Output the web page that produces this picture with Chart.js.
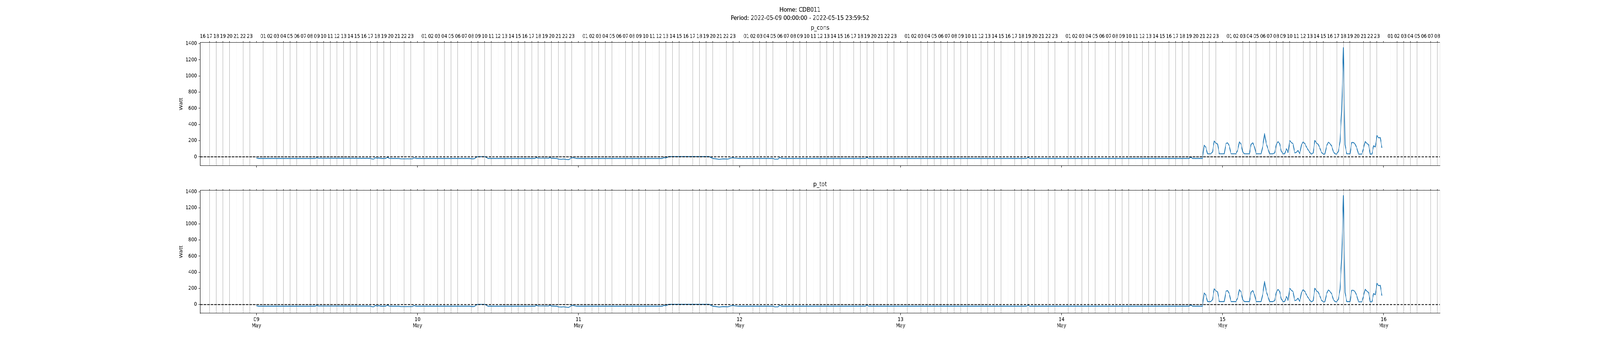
<!DOCTYPE html>
<html>
<head>
<meta charset="utf-8">
<script src="https://cdn.jsdelivr.net/npm/chart.js@4.4.0/dist/chart.umd.min.js"></script>
<style>
  html, body { margin: 0; padding: 0; background: #ffffff; overflow: hidden; }
  #wrap { position: absolute; left: 0; top: 0; width: 5000px; height: 900px; background: #ffffff; transform-origin: 0 0; }
  canvas { position: absolute; left: 0; }
</style>
</head>
<body>
<div id="wrap">
  <canvas id="c1" width="5000" height="440" style="top:0px"></canvas>
  <canvas id="c2" width="5000" height="460" style="top:440px"></canvas>
</div>
<script>
// ---------------- data ----------------
const suptitle = ['Home: CDB011', 'Period: 2022-05-09 00:00:00 - 2022-05-15 23:59:52'];
const panelTitles = ['p_cons', 'p_tot'];
const yLabel = 'Watt';

// day (major) ticks, hours since 2022-05-09 00:00
const dayTicks = [0, 24, 48, 72, 96, 120, 144, 168];
const dayLabels = ['09', '10', '11', '12', '13', '14', '15', '16'];
const monthLabel = 'May';
const hourLabels = ['00','01','02','03','04','05','06','07','08','09','10','11',
                    '12','13','14','15','16','17','18','19','20','21','22','23'];
const yTicks = [0, 200, 400, 600, 800, 1000, 1200, 1400];

// sample times (hours since 2022-05-09 00:00) at the vertices of the line
const hoursSinceStart = [
  0, 0.25, 8.75, 9, 9.25, 17, 17.25, 17.5, 17.75, 18, 18.25, 18.5, 19.25, 19.5, 19.75, 20,
  21.25, 21.5, 23.25, 23.5, 23.75, 31.75, 32.25, 32.5, 32.75, 33, 34, 34.25, 34.5,
  41.5, 41.75, 42, 43.5, 43.75, 44, 44.75, 45, 45.5, 45.75, 46, 46.5, 46.75, 47, 47.25, 47.5, 47.75,
  60.5, 60.75, 61, 61.25, 61.5, 67.5, 67.75, 68, 68.5, 69, 69.5, 70, 70.25, 70.75, 71, 71.5, 72,
  77, 77.25, 77.75, 78, 78.25, 90.75, 91, 91.25, 114.75, 115, 115.25, 139, 139.25, 139.5, 141,
  141.25, 141.5, 141.75, 142, 142.25, 142.5, 142.75, 143, 143.25, 143.5, 143.75, 144,
  144.25, 144.5, 144.75, 145, 145.25, 145.5, 145.75, 146, 146.25, 146.5, 146.75, 147,
  147.25, 147.5, 147.75, 148, 148.25, 148.5, 148.75, 149, 149.25, 149.5, 149.75, 150,
  150.25, 150.5, 150.75, 151, 151.25, 151.5, 151.75, 152, 152.25, 152.5, 152.75, 153,
  153.25, 153.5, 153.75, 154, 154.25, 154.5, 154.75, 155, 155.25, 155.5, 155.75, 156,
  156.25, 156.5, 156.75, 157, 157.25, 157.5, 157.75, 158, 158.25, 158.5, 158.75, 159,
  159.25, 159.5, 159.75, 160, 160.25, 160.5, 160.75, 161, 161.25, 161.5, 161.75, 162,
  162.25, 162.5, 162.75, 163, 163.25, 163.5, 163.75, 164, 164.25, 164.5, 164.75, 165,
  165.25, 165.5, 165.75, 166, 166.25, 166.5, 166.75, 167, 167.25, 167.5, 167.75
];

const pCons = [
  -14, -20, -20, -12, -18, -19, -27, -27, -11, -20, -14, -20, -20, -6, -18, -20,
  -20, -24, -24, -12, -20, -20, -25, -22, -5, 2, 2, -5, -20,
  -20, -10, -17, -18, -11, -19, -20, -28, -30, -27, -30, -35, -25, -12, -12, -17, -20,
  -20, -10, -15, -5, 3, 3, -10, -20, -25, -30, -25, -26, -28, -15, -12, -18, -20,
  -20, -28, -28, -8, -20, -20, -8, -20, -20, -8, -20, -20, -5, -20, -20,
  145, 118, 37, 37, 37, 61, 195, 169, 158, 37, 37, 37,
  37, 166, 174, 134, 37, 37, 37, 37, 82, 185, 158, 61,
  37, 37, 37, 37, 155, 174, 122, 37, 37, 37, 37, 137,
  290, 166, 102, 37, 37, 37, 48, 150, 187, 163, 69, 37,
  37, 100, 53, 202, 177, 161, 48, 56, 81, 37, 150, 185,
  163, 121, 85, 53, 34, 48, 202, 169, 155, 106, 53, 34,
  34, 134, 182, 163, 134, 64, 37, 34, 66, 190, 585, 1351,
  150, 37, 37, 37, 177, 177, 158, 109, 34, 34, 34, 105,
  190, 166, 150, 34, 34, 137, 122, 263, 235, 238, 111
];

const pTot = [
  -14, -20, -20, -12, -18, -19, -27, -27, -11, -20, -14, -20, -20, -6, -18, -20,
  -20, -24, -24, -12, -20, -20, -25, -22, -5, 2, 2, -5, -20,
  -20, -10, -17, -18, -11, -19, -20, -28, -30, -27, -30, -35, -25, -12, -12, -17, -20,
  -20, -10, -15, -5, 3, 3, -10, -20, -25, -30, -25, -26, -28, -15, -12, -18, -20,
  -20, -28, -28, -8, -20, -20, -8, -20, -20, -8, -20, -20, -5, -20, -20,
  145, 118, 37, 37, 37, 61, 195, 169, 158, 37, 37, 37,
  37, 166, 174, 134, 37, 37, 37, 37, 82, 185, 158, 61,
  37, 37, 37, 37, 155, 174, 122, 37, 37, 37, 37, 137,
  290, 166, 102, 37, 37, 37, 48, 150, 187, 163, 69, 37,
  37, 100, 53, 202, 177, 161, 48, 56, 81, 37, 150, 185,
  163, 121, 85, 53, 34, 48, 202, 169, 155, 106, 53, 34,
  34, 134, 182, 163, 134, 64, 37, 34, 66, 190, 585, 1351,
  150, 37, 37, 37, 177, 177, 158, 109, 34, 34, 34, 105,
  190, 166, 150, 34, 34, 137, 122, 263, 235, 238, 111
];

// ---------------- page fit ----------------
// The design is laid out for a 5000x900 page; fit it to the actual viewport.
(function fitPage() {
  const sx = (window.innerWidth || 5000) / 5000;
  const sy = (window.innerHeight || 900) / 900;
  document.getElementById('wrap').style.transform = 'scale(' + sx + ',' + sy + ')';
})();

// ---------------- styling / axes ----------------
const X_MIN = -8.4, X_MAX = 176.4;
const Y_MIN = -108, Y_MAX = 1416;
const LINE_BLUE = '#1f77b4';
const GRID_GREY = '#b0b0b0';
const FONT = 'DejaVu Sans';
const TICK_FS = 13.9;
const TITLE_FS = 16.67;

Chart.defaults.font.family = FONT;
Chart.defaults.color = '#000000';

const hourTicks = [];
for (let h = Math.ceil(X_MIN); h <= Math.floor(X_MAX); h++) hourTicks.push(h);

function toPoints(ts, vs) { return ts.map((t, i) => ({ x: t, y: vs[i] })); }

function makeChart(canvasId, values, cfg) {
  const plugins = {
    legend: { display: false },
    tooltip: { enabled: false }
  };
  if (cfg.suptitle) {
    plugins.title = {
      display: true, text: cfg.suptitle, fullSize: true, color: '#000',
      font: { family: FONT, size: TITLE_FS, weight: 'normal', lineHeight: 1.26 },
      padding: { top: 15.5, bottom: 0 }
    };
    plugins.subtitle = {
      display: true, text: cfg.panelTitle, fullSize: false, color: '#000',
      font: { family: FONT, size: TITLE_FS, weight: 'normal', lineHeight: 1.2 },
      padding: { top: 4.5, bottom: 0 }
    };
  } else {
    plugins.title = {
      display: true, text: cfg.panelTitle, fullSize: false, color: '#000',
      font: { family: FONT, size: TITLE_FS, weight: 'normal', lineHeight: 1.2 },
      padding: { top: cfg.titlePadTop, bottom: 0 }
    };
  }

  return new Chart(document.getElementById(canvasId), {
    type: 'line',
    data: {
      datasets: [
        {
          data: [{ x: X_MIN, y: 0 }, { x: X_MAX, y: 0 }],
          borderColor: '#000000', borderWidth: 2.08, borderDash: [7.7, 3.3],
          borderCapStyle: 'butt', pointRadius: 0, fill: false, tension: 0
        },
        {
          data: toPoints(hoursSinceStart, values),
          borderColor: LINE_BLUE, borderWidth: 2.08, pointRadius: 0, fill: false,
          tension: 0, borderJoinStyle: 'round', borderCapStyle: 'butt'
        }
      ]
    },
    options: {
      responsive: false,
      animation: false,
      devicePixelRatio: 1,
      layout: { padding: 0 },
      plugins: plugins,
      scales: {
        x: {
          type: 'linear', position: 'bottom', min: X_MIN, max: X_MAX,
          afterBuildTicks: s => { s.ticks = dayTicks.map(v => ({ value: v })); },
          ticks: {
            display: cfg.dayLabels, autoSkip: false, maxRotation: 0, minRotation: 0,
            padding: 3, color: '#000',
            font: { family: FONT, size: TICK_FS, lineHeight: 1.15 },
            callback: (v, i) => [dayLabels[i], monthLabel]
          },
          grid: { drawOnChartArea: false, drawTicks: true, tickLength: 5, tickColor: '#000', tickWidth: 1.1 },
          border: { display: true, color: '#000', width: 1.1 },
          afterFit: s => { s.height = cfg.bottomAxisH; }
        },
        x2: {
          type: 'linear', position: 'top', min: X_MIN, max: X_MAX,
          afterBuildTicks: s => { s.ticks = hourTicks.map(v => ({ value: v })); },
          ticks: {
            display: cfg.hourLabels, autoSkip: false, maxRotation: 0, minRotation: 0,
            padding: 4, color: '#000',
            font: { family: FONT, size: TICK_FS, lineHeight: 1.2 },
            callback: v => (v % 24 === 0) ? '' : hourLabels[((v % 24) + 24) % 24]
          },
          grid: {
            drawOnChartArea: true, drawTicks: true, tickLength: 3,
            color: ctx => (ctx.tick && ctx.tick.value % 24 === 0) ? 'rgba(0,0,0,0)' : GRID_GREY,
            lineWidth: 1.1, tickColor: '#000', tickWidth: 1.1
          },
          border: { display: true, color: '#000', width: 1.1 },
          afterFit: s => { s.height = cfg.topAxisH; }
        },
        y: {
          type: 'linear', position: 'left', min: Y_MIN, max: Y_MAX,
          afterBuildTicks: s => { s.ticks = yTicks.map(v => ({ value: v })); },
          ticks: {
            padding: 5, color: '#000',
            font: { family: FONT, size: TICK_FS },
            callback: v => String(v)
          },
          grid: { drawOnChartArea: false, drawTicks: true, tickLength: 5, tickColor: '#000', tickWidth: 1.1 },
          border: { display: true, color: '#000', width: 1.1 },
          title: {
            display: true, text: yLabel, color: '#000',
            font: { family: FONT, size: TICK_FS, lineHeight: 1.2 },
            padding: { top: 558.4, bottom: 0 }
          },
          afterFit: s => { s.width = 625.3; }
        },
        y2: {
          type: 'linear', position: 'right', min: Y_MIN, max: Y_MAX,
          ticks: { display: false },
          grid: { drawOnChartArea: false, drawTicks: false },
          border: { display: true, color: '#000', width: 1.1 },
          afterFit: s => { s.width = 500; }
        }
      }
    }
  });
}

makeChart('c1', pCons, {
  suptitle: suptitle, panelTitle: panelTitles[0],
  dayLabels: false, hourLabels: true,
  topAxisH: 26.3, bottomAxisH: 16.7
});

makeChart('c2', pTot, {
  suptitle: null, panelTitle: panelTitles[1], titlePadTop: 22,
  dayLabels: true, hourLabels: false,
  topAxisH: 4.7, bottomAxisH: 99
});
</script>
</body>
</html>
